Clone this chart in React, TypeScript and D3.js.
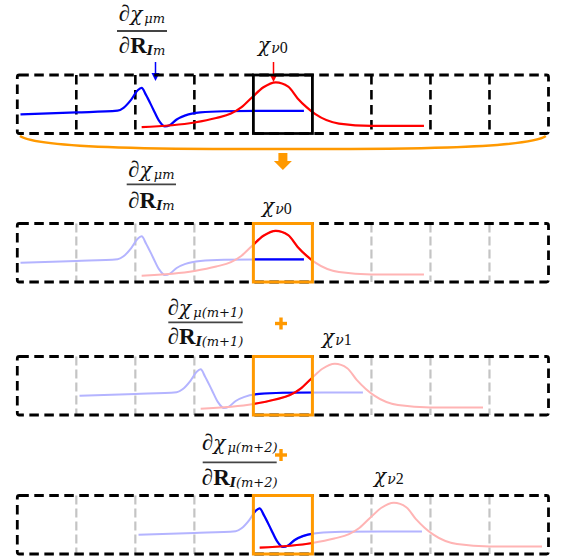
import React from 'react';
import * as d3 from 'd3';

// Cell grid: 9 cells along the chain
const cellBounds = d3.range(0, 10);
const boxCell = 4; // highlighted cell (index)

// Blue curve: derivative of basis function (x in cell units, y in relative amplitude)
const blueX = [0.054, 1.0, 1.7, 1.8, 1.93, 2.04, 2.107, 2.18, 2.3, 2.4, 2.5, 2.58, 2.7, 2.85, 3.1, 3.5, 4.2, 4.856];
const blueY = [0.327, 0.36, 0.39, 0.44, 0.58, 0.74, 0.78, 0.66, 0.42, 0.22, 0.12, 0.14, 0.24, 0.31, 0.36, 0.38, 0.386, 0.386];

// Red curve: basis function chi_nu
const redX = [2.107, 3.0, 3.37, 3.62, 3.8, 3.98, 4.17, 4.38, 4.59, 4.75, 4.9, 5.05, 5.45, 6.0, 6.89];
const redY = [0.108, 0.188, 0.265, 0.34, 0.45, 0.62, 0.79, 0.875, 0.8, 0.6, 0.45, 0.33, 0.17, 0.13, 0.13];

// Panels
const panelShifts = [0, 0, 1, 2];
const chiIndices = ['0', '0', '1', '2'];
const muSubs = ['m', 'm', '(m+1)', '(m+2)'];

const W = 565;
const H = 560;
const FONT = '"Liberation Serif", "DejaVu Serif", serif';
const FONT_IT = '"DejaVu Serif", "Liberation Serif", serif';
const ORANGE = '#ff9900';

const panelTops = [75, 223.5, 356.5, 495.5];
const panelH = 58.5;
const labelLayout = [
  { cx: 142, bx0: 117, bx1: 167, by: 31, num: 21, den: 53, chiX: 258, chiB: 52 },
  { cx: 151.4, bx0: 126.7, bx1: 176, by: 184.3, num: 176.5, den: 208, chiX: 262, chiB: 213 },
  { cx: 205.5, bx0: 168.3, bx1: 242.7, by: 322.3, num: 315, den: 343.5, chiX: 322, chiB: 344 },
  { cx: 239.7, bx0: 202.7, bx1: 276.7, by: 462.3, num: 450, den: 485, chiX: 374, chiB: 483 },
];

const x = d3.scaleLinear().domain([0, 9]).range([17.3, 548.5]);

function Fraction({ l, sub }: { l: any; sub: string }) {
  return (
    <g fill="#111">
      <text x={l.cx} y={l.num} textAnchor="middle" fontSize={23} fontFamily={FONT}>
        <tspan>∂</tspan>
        <tspan fontStyle="italic" fontFamily={FONT_IT} fontSize={20}>χ</tspan>
        <tspan fontSize={13} dy={2} dx={2} fontStyle="italic" fontFamily={FONT_IT}>μ{sub}</tspan>
      </text>
      <line x1={l.bx0} x2={l.bx1} y1={l.by} y2={l.by} stroke="#444" strokeWidth={1.8} />
      <text x={l.cx} y={l.den} textAnchor="middle" fontSize={23} fontFamily={FONT}>
        <tspan>∂</tspan>
        <tspan fontWeight="bold">R</tspan>
        <tspan fontSize={13} dy={2} fontWeight="bold" fontStyle="italic" fontFamily={FONT_IT}>I</tspan>
        <tspan fontSize={13} fontStyle="italic" fontFamily={FONT_IT}>{sub}</tspan>
      </text>
    </g>
  );
}

function Chi({ l, idx }: { l: any; idx: string }) {
  return (
    <text x={l.chiX} y={l.chiB} fontFamily={FONT} fontSize={23} fill="#111">
      <tspan fontStyle="italic" fontFamily={FONT_IT} fontSize={20}>χ</tspan>
      <tspan fontSize={14} dy={1} dx={1} fontStyle="italic" fontFamily={FONT_IT}>ν</tspan>
      <tspan fontSize={16}>{idx}</tspan>
    </text>
  );
}

function Panel({ p }: { p: number }) {
  const top = panelTops[p];
  const y = d3.scaleLinear().domain([0, 1]).range([top + panelH, top]);
  const shift = panelShifts[p];
  const line = d3
    .line<[number, number]>()
    .x((d) => x(d[0] + shift))
    .y((d) => y(d[1]))
    .curve(d3.curveMonotoneX);
  const blue = line(blueX.map((v, i) => [v, blueY[i]]) as [number, number][]) || '';
  const red = line(redX.map((v, i) => [v, redY[i]]) as [number, number][]) || '';
  const bx0 = x(boxCell);
  const bx1 = x(boxCell + 1);
  const clipId = `clip${p}`;
  const inner = cellBounds.slice(1, 9).filter((c) => c !== boxCell && c !== boxCell + 1);
  const first = p === 0;
  return (
    <g>
      <defs>
        <clipPath id={clipId}>
          <rect x={bx0} y={top - 5} width={bx1 - bx0} height={panelH + 10} />
        </clipPath>
      </defs>
      {inner.map((c) => (
        <line
          key={c}
          x1={x(c)}
          x2={x(c)}
          y1={top}
          y2={top + panelH}
          stroke={first ? '#000' : '#c4c4c4'}
          strokeWidth={first ? 2.6 : 2.2}
          strokeDasharray={first ? '9.5 5.5' : '9 4'}
        />
      ))}
      <rect
        x={x(0)}
        y={top}
        width={x(9) - x(0)}
        height={panelH}
        fill="none"
        stroke="#000"
        strokeWidth={2.8}
        strokeDasharray="9.5 5.5"
        rx={2}
      />
      {first ? (
        <g>
          <path d={blue} fill="none" stroke="#0000ff" strokeWidth={2.2} />
          <path d={red} fill="none" stroke="#ff0000" strokeWidth={2.2} />
          <rect x={bx0} y={top} width={bx1 - bx0} height={panelH} fill="none" stroke="#000" strokeWidth={2.8} />
        </g>
      ) : (
        <g>
          <path d={blue} fill="none" stroke="#b4b4ff" strokeWidth={2} />
          <path d={red} fill="none" stroke="#ffb4b4" strokeWidth={2} />
          <g clipPath={`url(#${clipId})`}>
            <path d={blue} fill="none" stroke="#0000ff" strokeWidth={2.2} />
            <path d={red} fill="none" stroke="#ff0000" strokeWidth={2.2} />
          </g>
          <rect x={bx0} y={top} width={bx1 - bx0} height={panelH} fill="none" stroke={ORANGE} strokeWidth={3} />
        </g>
      )}
      <Fraction l={labelLayout[p]} sub={muSubs[p]} />
      <Chi l={labelLayout[p]} idx={chiIndices[p]} />
    </g>
  );
}

function Plus({ cx, cy }: { cx: number; cy: number }) {
  const s = 6;
  return (
    <g stroke={ORANGE} strokeWidth={3.4}>
      <line x1={cx - s} x2={cx + s} y1={cy} y2={cy} />
      <line x1={cx} x2={cx} y1={cy - s} y2={cy + s} />
    </g>
  );
}

export default function App() {
  const midX = (x(0) + x(9)) / 2;
  return (
    <svg width={W} height={H} style={{ position: 'absolute', left: 0, top: 0, background: '#fff' }}>
      <rect width={W} height={H} fill="#fff" />
      <g>
        <line x1={155.5} x2={155.5} y1={62} y2={74} stroke="#0000ff" strokeWidth={1.5} />
        <path d={`M151.5,73 L159.5,73 L155.5,81 Z`} fill="#0000ff" />
        <line x1={273.5} x2={273.5} y1={62} y2={75} stroke="#ff0000" strokeWidth={1.5} />
        <path d={`M269.5,74 L277.5,74 L273.5,82 Z`} fill="#ff0000" />
      </g>
      {[0, 1, 2, 3].map((p) => (
        <Panel key={p} p={p} />
      ))}
      <path
        d={`M20,136 C40,150 200,149 ${midX},149 C${2 * midX - 200},149 ${2 * midX - 40},150 ${2 * midX - 20},136`}
        fill="none"
        stroke={ORANGE}
        strokeWidth={2.6}
      />
      <path
        d={`M${midX - 4.5},153 L${midX + 4.5},153 L${midX + 4.5},161 L${midX + 9},161 L${midX},170 L${midX - 9},161 L${midX - 4.5},161 Z`}
        fill={ORANGE}
      />
      <Plus cx={281} cy={323.5} />
      <Plus cx={281} cy={455} />
    </svg>
  );
}
